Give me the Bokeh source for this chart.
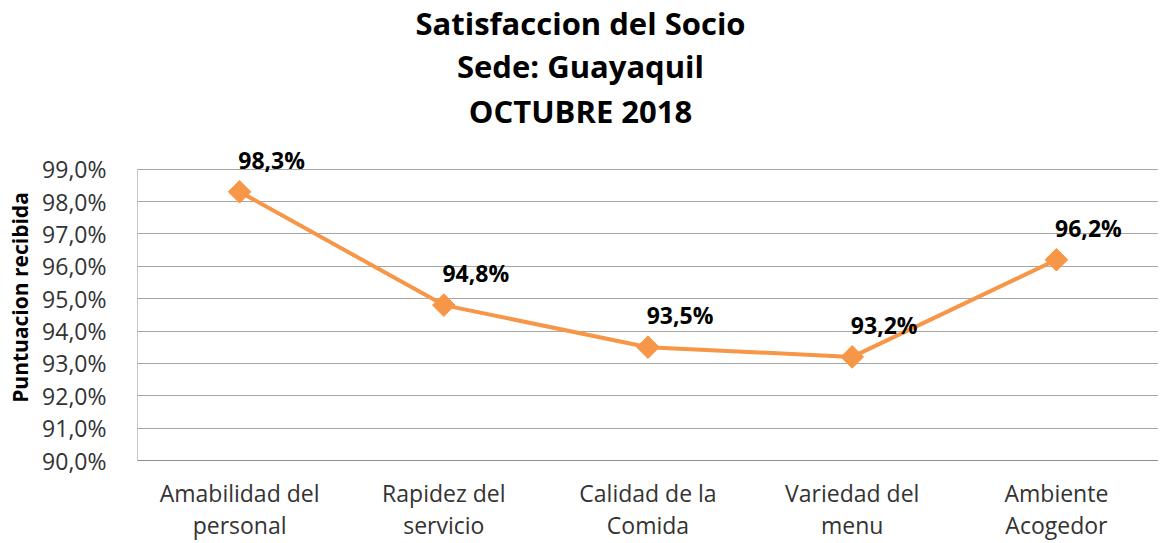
import math
from bokeh.plotting import figure
from bokeh.layouts import column
from bokeh.models import ColumnDataSource, Label, FixedTicker, Range1d, CustomJSTickFormatter
from bokeh.core.properties import value
from bokeh.embed import file_html
from bokeh.resources import INLINE

categories = ["Amabilidad del\npersonal", "Rapidez del\nservicio", "Calidad de la\nComida",
              "Variedad del\nmenu", "Ambiente\nAcogedor"]
scores = [0.983, 0.948, 0.935, 0.932, 0.962]
score_labels = ["98,3%", "94,8%", "93,5%", "93,2%", "96,2%"]
y_ticks = [0.90, 0.91, 0.92, 0.93, 0.94, 0.95, 0.96, 0.97, 0.98, 0.99]
title_lines = ["Satisfaccion del Socio", "Sede: Guayaquil", "OCTUBRE 2018"]
y_axis_title = "Puntuacion recibida"

FONT = "Open Sans"
ORANGE = "#F79646"
AXIS_GREY = "#8c8c8c"
Y_MIN, Y_MAX = y_ticks[0], y_ticks[-1]
HEADROOM = 0.0107  # empty band above the top gridline (holds the first value label)

W = 1158
TITLE_H = 134
LEFT = 137

# ---- title block (three centred bold lines) ----
tf = figure(width=W, height=TITLE_H, output_backend="svg", toolbar_location=None,
            x_axis_type=None, y_axis_type=None, min_border=0,
            x_range=Range1d(0, 1), y_range=Range1d(0, 1))
tf.outline_line_color = None
tf.grid.visible = False
# the column aligns this frame with the chart frame (which starts LEFT px in)
for txt, yy in zip(title_lines, [112, 69, 24]):
    tf.add_layout(Label(x=580 - LEFT, y=yy, x_units="screen", y_units="screen", text=txt,
                        text_align="center", text_baseline="middle", text_font=FONT,
                        text_font_size="31px", text_font_style="bold", text_color="black"))

# ---- main chart ----
src = ColumnDataSource(dict(cat=categories, y=scores, lab=score_labels))

p = figure(width=W, height=543 - TITLE_H, x_range=categories,
           y_range=Range1d(Y_MIN, Y_MAX + HEADROOM),
           output_backend="svg", toolbar_location=None,
           min_border_left=LEFT, min_border_right=0, min_border_top=0, min_border_bottom=80)
p.outline_line_color = None
p.background_fill_color = "white"
p.border_fill_color = "white"

# left axis line limited to the tick span
p.segment(x0=[0], y0=[Y_MIN], x1=[0], y1=[Y_MAX], line_color=AXIS_GREY, line_width=1)

p.line(x="cat", y="y", source=src, line_color=ORANGE, line_width=4)
p.scatter(x="cat", y="y", source=src, marker="square", size=16, angle=math.pi / 4,
          fill_color=ORANGE, line_color=ORANGE)
p.text(x="cat", y="y", text="lab", source=src, x_offset=32, y_offset=-32,
       text_align="center", text_baseline="middle", text_font=value(FONT),
       text_font_size="23px", text_font_style="bold", text_color="black")

# Axes
p.yaxis.ticker = FixedTicker(ticks=y_ticks)
p.yaxis.formatter = CustomJSTickFormatter(code="return (tick*100).toFixed(1).replace('.', ',') + '%';")
p.yaxis.major_label_text_font = FONT
p.yaxis.major_label_text_font_size = "23px"
p.yaxis.major_label_text_color = "#333333"
p.yaxis.major_tick_line_color = None
p.yaxis.minor_tick_line_color = None
p.yaxis.major_label_standoff = 25
p.yaxis.axis_line_color = None
p.yaxis.axis_label = y_axis_title
p.yaxis.axis_label_text_font = FONT
p.yaxis.axis_label_text_font_size = "21px"
p.yaxis.axis_label_text_font_style = "bold"
p.yaxis.axis_label_text_color = "black"
p.yaxis.axis_label_standoff = 5

p.xaxis.major_label_text_font = FONT
p.xaxis.major_label_text_font_size = "23px"
p.xaxis.major_label_text_line_height = 1.0
p.xaxis.major_label_text_color = "#333333"
p.xaxis.major_tick_line_color = None
p.xaxis.major_label_standoff = 10
p.xaxis.axis_line_color = AXIS_GREY

p.xgrid.grid_line_color = None
p.ygrid.grid_line_color = "#a6a6a6"
p.ygrid.grid_line_width = 1

layout = column(tf, p, spacing=0)
open("out.html", "w").write(file_html(layout, INLINE))
